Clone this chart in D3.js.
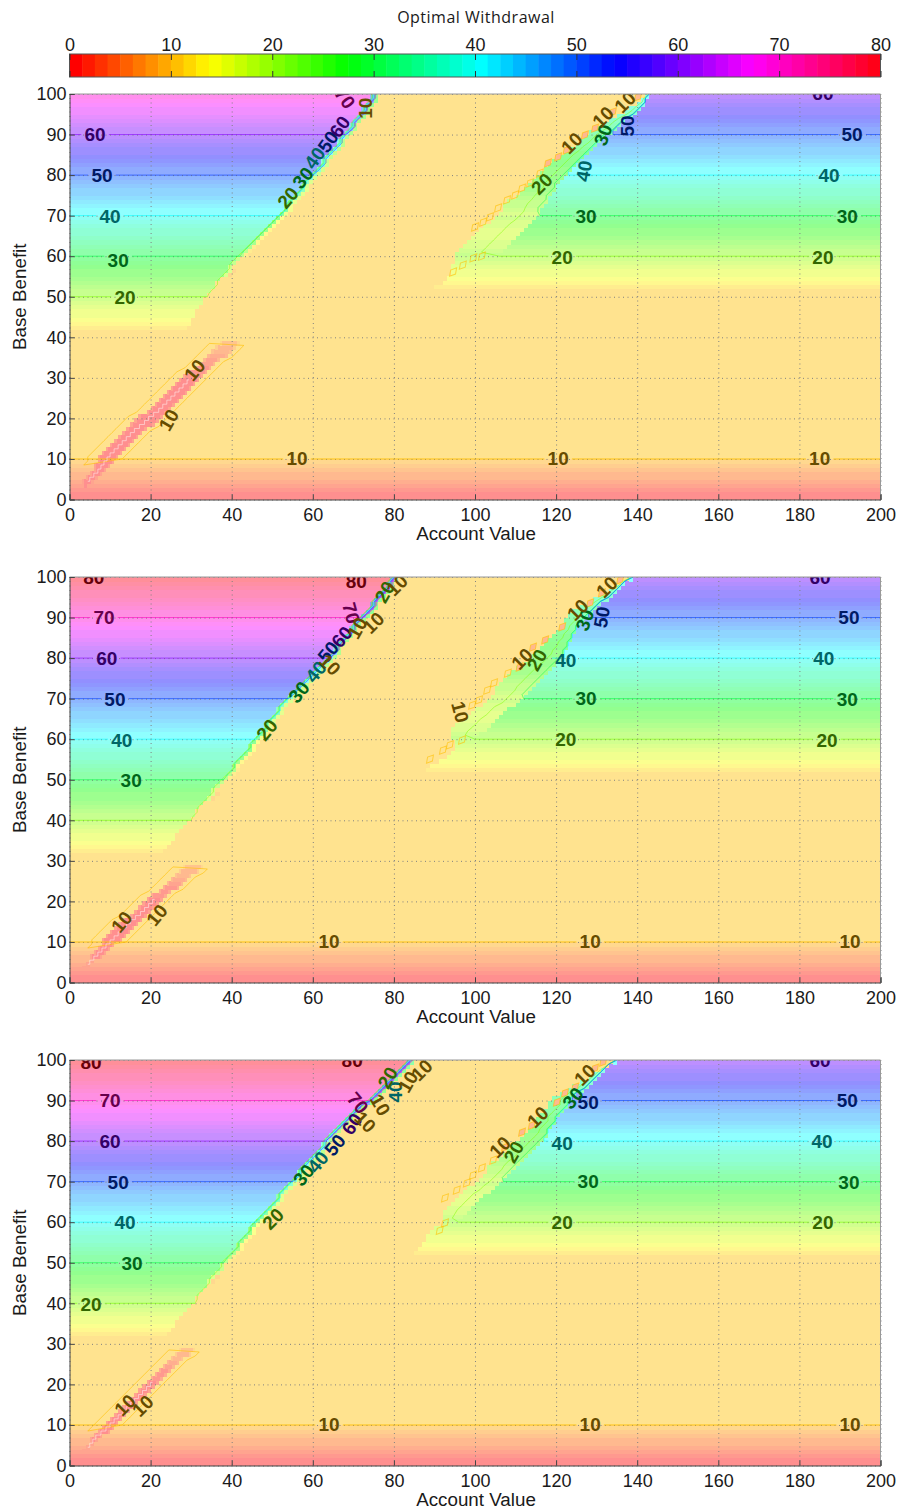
<!DOCTYPE html>
<html lang="en">
<head>
<meta charset="UTF-8">
<title>Optimal Withdrawal</title>
<script src="https://d3js.org/d3.v7.min.js"></script>
<style>
    body { margin: 0; background: #fff; }
    text { font-family: "Liberation Sans", Arial, sans-serif; fill: #1a1a1a; }
    .tick text { font-size: 18px; }
    .axis-title { font-size: 18.8px; text-anchor: middle; }
    .bar-title { font-family: "Open Sans", sans-serif; font-size: 16px; letter-spacing: 0.5px; text-anchor: middle; }
    .clabel { font-size: 19px; font-weight: bold; text-anchor: middle; dominant-baseline: central; }
</style>
</head>
<body>
<script>
// colorbar
const barMax = 80, barSteps = 64;
const barTicks = [0, 10, 20, 30, 40, 50, 60, 70, 80];
const xTicks = [0, 20, 40, 60, 80, 100, 120, 140, 160, 180, 200];
const yTicks = [0, 10, 20, 30, 40, 50, 60, 70, 80, 90, 100];

// optimal withdrawal in the rows y = 0..9, above that the flat area is 10
const lowRows = [0, 1, 2, 3, 4, 5, 6, 7, 8, 9];
const flatValue = 10;

// left wedge: rows from y = 42 (top panel), y = 32 (other two)
const leftValuesTop = [12,13,14,15,16,17,18,19,20,21,22,23,24,25,26,27,28,29,30,31,32,33,34,35,36,37,38,39,40,41,42,43,44,45,46,47,48,49,50,51,52,53,54,55,56,57,58,59,60,61,62,63,64,65,66,67,68,69];
const leftValuesLow = [12,13,14,15,16,17,18,19,20,21,22,23,24,25,26,27,28,29,30,31,32,33,34,35,36,37,38,39,40,41,42,43,44,45,46,47,48,49,50,51,52,53,54,55,56,57,58,59,60,61,62,63,64,65,66,67,68,69,70,71,72,73,74,75,76,77,78,79];
const leftEdge1 = [29,30,30,31,31,32,33,33,34,35,36,36,37,38,39,39,40,41,42,43,44,45,46,47,48,49,50,51,52,53,53,54,55,56,57,57,58,59,60,61,62,62,63,64,65,66,66,67,68,69,69,70,71,72,72,73,74,74];
const leftEdge2 = [23,24,25,26,26,27,28,29,30,31,31,32,33,34,35,35,36,37,38,39,40,40,41,42,43,44,44,45,46,47,48,48,49,50,51,51,52,53,54,55,56,57,58,59,60,61,62,63,64,65,65,66,67,68,69,69,70,71,72,73,74,74,75,76,77,78,78,79];
const leftEdge3 = [24,25,26,26,27,28,29,30,31,31,32,33,34,34,35,36,37,37,38,39,40,41,41,42,43,44,44,45,46,47,48,49,50,51,51,52,53,54,55,56,56,57,58,59,60,61,62,62,63,64,65,66,67,68,69,70,71,73,74,75,76,77,78,79,80,81,82,83];
// share of the row value in the two cells right of the left edge
const edgeShares = [0.72, 0.38];

// right wedge: rows from y = 52 in all panels
const rightValues = [12,13,14,15,16,17,18,19,20,21,22,23,24,25,26,27,28,29,30,31,32,33,34,35,36,37,38,39,40,41,42,43,44,45,46,47,48,49,50,51,52,53,54,55,56,57,58,59];
const shelfValues = [12,13,14,15,16,17,18,19,20,19,18,18,17,17,17,18,18,19,18,19,20,21,22,23,24,24,25,25,26,26,27,27,28,28,29,30,30,31,32,32,33,34,35,36,37,38,39,40];
const shelfStart1 = [90,92,93,94,94,94,95,95,95,96,97,98,99,100,101,102,104,105,106,107,107,108,110,111,112,113,114,115,116,117,118,119,120,122,123,125,126,127,128,130,131,133,135,137,138,140,141,142];
const shelfStart2 = [88,89,91,93,94,95,95,95,94,94,94,95,96,98,99,100,102,103,104,105,105,106,107,108,109,110,112,113,114,115,116,117,118,119,120,121,122,122,123,124,126,128,129,131,133,135,136,138];
const shelfStart3 = [85,86,87,88,88,89,90,92,92,92,92,93,94,95,96,97,98,100,101,102,103,103,104,106,107,108,109,110,111,112,113,114,115,115,116,117,118,118,119,121,123,124,126,128,129,131,133,134];
const rightEdge1 = [90,92,93,94,96,98,100,103,106,107,108,109,110,111,112,113,114,115,116,116,117,118,118,119,120,120,121,122,123,124,125,126,127,128,129,130,131,132,134,135,136,137,139,140,141,142,142,143];
const rightEdge2 = [88,89,91,93,94,95,97,99,100,101,103,104,105,106,107,108,110,111,112,113,114,115,116,117,118,119,120,121,122,122,123,123,124,124,125,125,126,127,128,129,130,131,133,134,135,136,137,139];
const rightEdge3 = [85,86,87,88,90,92,94,95,96,97,98,99,100,101,102,104,105,106,107,108,109,110,111,112,113,114,115,116,117,118,118,119,120,120,121,122,123,123,124,125,127,128,129,130,131,132,133,135];

// low streak along the diagonal, rows from y = 3
const streakStart1 = [3,3,4,5,6,6,7,7,8,9,10,11,12,13,14,15,16,17,19,20,21,22,23,24,25,26,27,28,29,31,32,33,34,35,36,37];
const streakEnd1 = [5,6,7,8,9,10,11,12,13,14,15,16,17,18,19,21,22,23,24,25,26,27,28,29,30,31,32,33,34,35,36,37,39,40,41,42];
const streakValues1 = [1,1,1,1,1,1,1,1,1,1,1,1,1,1,1,1,1,1,1,1,1,1,1,1,1,1,1,2,2,2,3,3,4,5,6,7];
const streakStart2 = [3,4,5,5,6,7,8,8,9,10,11,12,13,15,16,17,18,19,20,22,23,24,25,26,27,28];
const streakEnd2 = [4,5,6,8,9,10,11,13,14,15,16,17,18,19,20,21,22,23,24,25,27,28,29,30,32,33];
const streakStart3 = [3,4,5,5,6,7,8,9,10,11,12,13,14,15,16,17,18,19,20,21,22,23,24,25,26,27];
const streakEnd3 = [4,5,6,7,8,10,11,12,13,14,15,16,17,18,19,20,21,22,23,24,25,26,27,28,30,31];
const streakValues2 = [1,1,1,1,1,1,1,1,1,1,1,1,1,1,1,1,1,1,2,2,2,3,4,5,6,7];

// how far a contour sits from the wedge edge towards the shelf start
const contourShare = { 20: 0.4, 30: 0.05, 40: 0, 50: 0, 60: 0 };

// little closed 10 contours next to the right wedge: x, y, peach fill or not
const islands1 = [[94.6,56.1,0],[97,57.8,0],[99.6,59.6,0],[101.7,60,0],[100,67.2,0],[102,68.4,0],[103.7,69.7,0],[105.7,71.9,0],[107.9,73.9,0],[109.9,75.1,0],[111.6,76.8,0],[113.6,78.1,0],[116,80.5,0],[118,83,1],[120.5,84.5,1],[122.6,86.2,1],[127.1,89.9,1],[129.6,91.6,1],[134,95.6,1],[140.2,99.3,1]];
const islands2 = [[88.9,55.1,0],[92.1,57.3,0],[93.8,58.6,0],[96.8,59.8,0],[99.3,68.4,0],[101,69.7,0],[103,72.1,0],[104.7,73.9,0],[108.1,76.3,0],[111,77.8,1],[114.3,82.7,1],[117.3,84.5,1],[121.5,87.7,1],[128.4,93.6,1],[131.3,96.1,1],[135.8,99.3,1]];
const islands3 = [[91.3,58,0],[92.6,59.8,0],[92.6,66,0],[95.5,67.9,0],[98,69.7,0],[99.5,71.6,0],[101.7,73.4,0],[104.5,75.3,0],[107.4,78.5,1],[111.6,82.2,1],[114,83.9,1],[120.2,89.6,1],[122.2,91.9,1],[124.7,93.3,1],[129.6,98,1],[131.6,99.5,1]];

// contour labels: text, x, y, angle
const labels1 = [["60",6.3,89.9,0],["50",8,79.8,0],["40",10,69.9,0],["30",12,59,0],["20",13.7,49.9,0],
    ["10",56.1,10,0],["10",120.5,10,0],["10",185,10,0],
    ["20",53.9,74.4,-50],["30",57.6,79.3,-50],["40",60.5,84.2,-55],["50",63.8,88.2,-55],["60",66.7,91.9,-55],["70",67.9,99,55],["10",72.9,96.5,-90],
    ["60",185.8,100.2,0],["50",193,89.9,0],["40",187.3,79.8,0],["30",191.8,69.9,0],["20",185.8,59.8,0],
    ["20",121.5,59.8,0],["30",127.4,69.9,0],["40",126.9,81,-80],["50",137.5,92.1,-90],["30",131.6,89.9,-70],["10",131.6,94.3,-45],["10",137,98,-45],["10",123.9,87.9,-45],["20",116.5,77.8,-45],
    ["10",30.9,31.9,-50],["10",24.5,19.6,-60]];
const labels2 = [["80",6,99.8,0],["70",8.5,89.9,0],["60",9.2,79.8,0],["50",11.2,69.9,0],["40",12.9,59.8,0],["30",15.2,49.9,0],
    ["10",64,10,0],["10",128.4,10,0],["10",192.5,10,0],
    ["80",70.7,99,0],["70",69.4,91.1,75],["60",67.2,85.2,-50],["50",63.8,81.5,-50],["40",60.8,76.6,-50],["30",56.6,71.6,-50],["20",48.7,62.3,-50],
    ["10",64.2,78.3,45],["10",71,87.4,-60],["10",75,88.7,-45],["20",77.8,96.3,-60],["10",80.8,98,-45],
    ["60",185.1,99.8,0],["50",192.2,89.9,0],["40",186,80,0],["30",191.8,69.9,0],["20",186.8,59.8,0],
    ["20",122.4,60,0],["30",127.4,70,0],["40",122.4,79.3,0],["10",96.3,66.7,75],["10",111.6,79.8,-45],["20",115.3,79.5,-60],["30",127.1,89.4,-70],["10",125.4,91.9,-45],["50",131.3,90.1,-80],["10",132.5,97.5,-45],
    ["10",12.9,14.9,-50],["10",21.6,16.6,-50]];
const labels3 = [["80",5.3,99.3,0],["70",10,89.9,0],["60",10,80,0],["50",12,69.9,0],["40",13.7,60,0],["30",15.4,49.9,0],["20",5.3,39.8,0],
    ["10",64,10,0],["10",128.4,10,0],["10",192.5,10,0],
    ["20",50.2,60.8,-45],["30",57.8,71.6,-50],["40",61.3,74.8,-50],["50",65.5,79,-50],["60",69.7,84.2,-55],["70",71.1,89.4,50],["10",72.9,84.7,45],["10",76.6,88.9,60],["80",69.7,100,0],["40",80.3,92.1,-90],["20",78.5,95.6,-60],["10",83.5,94.6,-60],["10",86.9,97.5,-45],
    ["60",185.1,100,0],["50",191.8,89.9,0],["40",185.6,80,0],["30",192.2,69.9,0],["20",185.8,60,0],
    ["20",121.5,60,0],["30",127.9,70,0],["40",121.5,79.3,0],["50",127.9,89.4,0],["30",124.2,90.6,-50],["10",127.1,96.3,-45],["10",115.5,85.9,-45],["10",106.2,78.5,-45],["20",109.6,77.3,-60],
    ["10",13.7,14.9,-45],["10",18.1,14.7,-45]];

const panels = [
    { top: 94, leftY: 42, leftValues: leftValuesTop, leftEdge: leftEdge1, shelfStart: shelfStart1, rightEdge: rightEdge1,
      streakStart: streakStart1, streakEnd: streakEnd1, streakValues: streakValues1, islands: islands1, labels: labels1 },
    { top: 577, leftY: 32, leftValues: leftValuesLow, leftEdge: leftEdge2, shelfStart: shelfStart2, rightEdge: rightEdge2,
      streakStart: streakStart2, streakEnd: streakEnd2, streakValues: streakValues2, islands: islands2, labels: labels2 },
    { top: 1060, leftY: 32, leftValues: leftValuesLow, leftEdge: leftEdge3, shelfStart: shelfStart3, rightEdge: rightEdge3,
      streakStart: streakStart3, streakEnd: streakEnd3, streakValues: streakValues2, islands: islands3, labels: labels3 }
];

const left = 69.5, width = 811, height = 405.5, rightY = 52, paleMix = 0.44;

const svg = d3.select("body").append("svg").attr("width", 898).attr("height", 1511);

// hsv colormap, 64 steps, hue goes once round
function pure(v) {
    const i = Math.max(0, Math.min(barSteps - 1, Math.floor(v / barMax * barSteps)));
    return d3.hsl(i / barSteps * 360, 1, 0.5).formatHex();
}
const pale = v => d3.interpolateRgb("#fff", pure(v))(paleMix);
const labelColor = v => { const c = d3.rgb(pure(v)); return d3.rgb(c.r * 0.4, c.g * 0.4, c.b * 0.4).formatHex(); };

// colorbar
const barX = d3.scaleLinear().domain([0, barMax]).range([left, left + width]);
svg.append("text").attr("class", "bar-title").attr("x", 476).attr("y", 23).text("Optimal Withdrawal");
svg.append("g").selectAll("rect")
    .data(d3.range(barSteps))
    .join("rect")
    .attr("x", d => barX(d * barMax / barSteps))
    .attr("y", 54)
    .attr("width", width / barSteps + 0.5)
    .attr("height", 23)
    .attr("fill", d => pure(d * barMax / barSteps));
svg.append("rect").attr("x", left).attr("y", 54).attr("width", width).attr("height", 23)
    .attr("fill", "none").attr("stroke", "#555");
const barAxis = svg.append("g").attr("transform", "translate(0,54)")
    .call(d3.axisTop(barX).tickValues(barTicks).tickSize(-6).tickPadding(3).tickFormat(d3.format("d")));
barAxis.select(".domain").remove();
barAxis.selectAll("line").attr("stroke", "#333");
const barBottom = svg.append("g").attr("transform", "translate(0,77)")
    .call(d3.axisBottom(barX).tickValues(barTicks).tickSize(-6).tickFormat(""));
barBottom.select(".domain").remove();
barBottom.selectAll("line").attr("stroke", "#333");

panels.forEach((p, n) => {
    const x = d3.scaleLinear().domain([0, 200]).range([left, left + width]);
    const y = d3.scaleLinear().domain([0, 100]).range([p.top + height, p.top]);
    const g = svg.append("g");
    const clipId = "clip" + n;
    g.append("clipPath").attr("id", clipId).append("rect")
        .attr("x", left).attr("y", p.top).attr("width", width).attr("height", height);

    // cells of one row: x0, x1, row y, value
    const cells = [];
    yTicks.slice(0, -1).forEach(t => d3.range(10).forEach(k => {
        const row = t + k;
        cells.push([0, 200, row, row < 10 ? lowRows[row] : flatValue]);
    }));
    p.leftValues.forEach((v, i) => {
        const row = p.leftY + i, e = p.leftEdge[i];
        cells.push([0, e, row, v]);
        if (v >= 25) edgeShares.forEach((s, k) => cells.push([e + k, e + k + 1, row, v * s]));
    });
    rightValues.forEach((v, i) => {
        const row = rightY + i;
        cells.push([p.shelfStart[i], p.rightEdge[i], row, shelfValues[i]]);
        cells.push([p.rightEdge[i], 200, row, v]);
    });
    p.streakValues.forEach((v, i) => {
        const row = 3 + i, a = p.streakStart[i], b = p.streakEnd[i];
        cells.push([a, b, row, v + 2]);
        if (b - a > 1) cells.push([a + 0.6, b - 0.6, row, v]);
    });

    g.append("g").attr("shape-rendering", "crispEdges").selectAll("rect")
        .data(cells)
        .join("rect")
        .attr("x", d => x(d[0]))
        .attr("y", d => y(d[2] + 1))
        .attr("width", d => x(d[1]) - x(d[0]))
        .attr("height", d => y(d[2]) - y(d[2] + 1) + 0.5)
        .attr("fill", d => pale(d[3]));

    // dotted grid
    const gridX = g.append("g").attr("transform", `translate(0,${p.top + height})`)
        .call(d3.axisBottom(x).tickValues(xTicks).tickSize(-height).tickFormat(""));
    const gridY = g.append("g").attr("transform", `translate(${left},0)`)
        .call(d3.axisLeft(y).tickValues(yTicks).tickSize(-width).tickFormat(""));
    [gridX, gridY].forEach(a => {
        a.select(".domain").remove();
        a.selectAll("line").attr("stroke", "#808080").attr("stroke-width", 1).attr("stroke-dasharray", "1,3.5");
    });

    const area = g.append("g").attr("clip-path", `url(#${clipId})`);
    const line = d3.line().x(d => x(d[0])).y(d => y(d[1]));

    // horizontal contour piece with gaps where its labels sit
    function flatPieces(level, yv, x0, x1) {
        const gaps = p.labels
            .filter(l => +l[0] === level && l[3] === 0 && Math.abs(l[2] - yv) < 3 && l[1] > x0 && l[1] < x1)
            .map(l => l[1]).sort(d3.ascending);
        const pieces = [];
        let from = x0;
        gaps.forEach(c => { pieces.push([[from, yv], [c - 3.4, yv]]); from = c + 3.4; });
        pieces.push([[from, yv]]);
        return { pieces, from };
    }
    function contour(pts, level, op, w) {
        area.append("path").attr("d", line(pts)).attr("fill", "none")
            .attr("stroke", pure(level)).attr("stroke-width", w || 1).attr("stroke-opacity", op);
    }

    const levels = barTicks.slice(2);
    levels.forEach(level => {
        // left wedge
        const li = p.leftValues.indexOf(level);
        if (li >= 0) {
            const yv = p.leftY + li;
            const up = p.leftEdge.slice(li).map((e, k) => [e + level / 40, yv + k + 1]);
            const f = flatPieces(level, yv, 0, p.leftEdge[li]);
            f.pieces.slice(0, -1).forEach(s => contour(s, level, 0.6));
            contour([[f.from, yv], [p.leftEdge[li], yv]], level, 0.6);
            contour([[p.leftEdge[li], yv]].concat(up), level, 0.45);
        }
        // right wedge
        const ri = rightValues.indexOf(level);
        if (ri >= 0) {
            const yv = rightY + ri;
            const share = contourShare[level] || 0;
            const up = p.rightEdge.slice(ri).map((e, k) => [e - share * (e - p.shelfStart[ri + k]), yv + k + 1]);
            const f = flatPieces(level, yv, p.rightEdge[ri], 200);
            f.pieces.slice(0, -1).forEach(s => contour(s.slice().reverse(), level, 0.6));
            contour([[200, yv], [f.from, yv]], level, 0.6);
            contour([[p.rightEdge[ri], yv]].concat(up), level, 0.5);
        }
    });

    // level 10 straight across
    const ten = flatPieces(10, 10, 0, 200);
    ten.pieces.slice(0, -1).forEach(s => contour(s, 10, 0.6, 1.5));
    contour([[ten.from, 10], [200, 10]], 10, 0.6, 1.5);

    // outline of the streak and its zigzag middle
    const rows = p.streakValues.map((v, i) => i);
    const outline = rows.filter(i => i > 4).map(i => [p.streakStart[i] - 2.5, i + 3.5])
        .concat(rows.slice().reverse().filter(i => i > 6).map(i => [p.streakEnd[i] + 1, i + 3]));
    area.append("path").attr("d", line(outline) + "Z").attr("fill", "none")
        .attr("stroke", pure(10)).attr("stroke-width", 1).attr("stroke-opacity", 0.6);
    area.append("path").attr("d", d3.line().x(d => x(d[0])).y(d => y(d[1])).curve(d3.curveStep)(
            rows.filter(i => i > 0 && p.streakValues[i] < 2).map(i => [(p.streakStart[i] + p.streakEnd[i]) / 2, i + 3.5])))
        .attr("fill", "none").attr("stroke", "#fff").attr("stroke-width", 0.8).attr("stroke-opacity", 0.6);

    // small closed contours
    const diamond = d3.symbol().type(d3.symbolDiamond).size(34);
    area.append("g").selectAll("path")
        .data(p.islands)
        .join("path")
        .attr("d", diamond)
        .attr("transform", d => `translate(${x(d[0])},${y(d[1])}) rotate(40)`)
        .attr("fill", d => d[2] ? pale(6) : "none")
        .attr("stroke", pure(10)).attr("stroke-width", 1).attr("stroke-opacity", 0.6);

    // contour labels
    area.append("g").selectAll("text")
        .data(p.labels)
        .join("text")
        .attr("class", "clabel")
        .attr("transform", d => `translate(${x(d[1])},${y(d[2])}) rotate(${d[3]})`)
        .style("fill", d => labelColor(+d[0]))
        .text(d => d[0]);

    // box
    g.append("path").attr("fill", "none").attr("stroke", "#999")
        .attr("d", `M${left},${p.top}H${left + width}V${p.top + height}`);

    // axes, ticks point inwards
    const ax = g.append("g").attr("transform", `translate(0,${p.top + height})`)
        .call(d3.axisBottom(x).tickValues(xTicks).tickSize(-5).tickPadding(9).tickFormat(d3.format("d")));
    const ay = g.append("g").attr("transform", `translate(${left},0)`)
        .call(d3.axisLeft(y).tickValues(yTicks).tickSize(-5).tickPadding(3).tickFormat(d3.format("d")));
    [ax, ay].forEach(a => {
        a.select(".domain").attr("stroke", "#444");
        a.selectAll("line").attr("stroke", "#444");
    });

    g.append("text").attr("class", "axis-title").attr("x", 476).attr("y", p.top + height + 40).text("Account Value");
    g.append("text").attr("class", "axis-title")
        .attr("transform", `translate(26,${p.top + height / 2}) rotate(-90)`).text("Base Benefit");
});
</script>
</body>
</html>
